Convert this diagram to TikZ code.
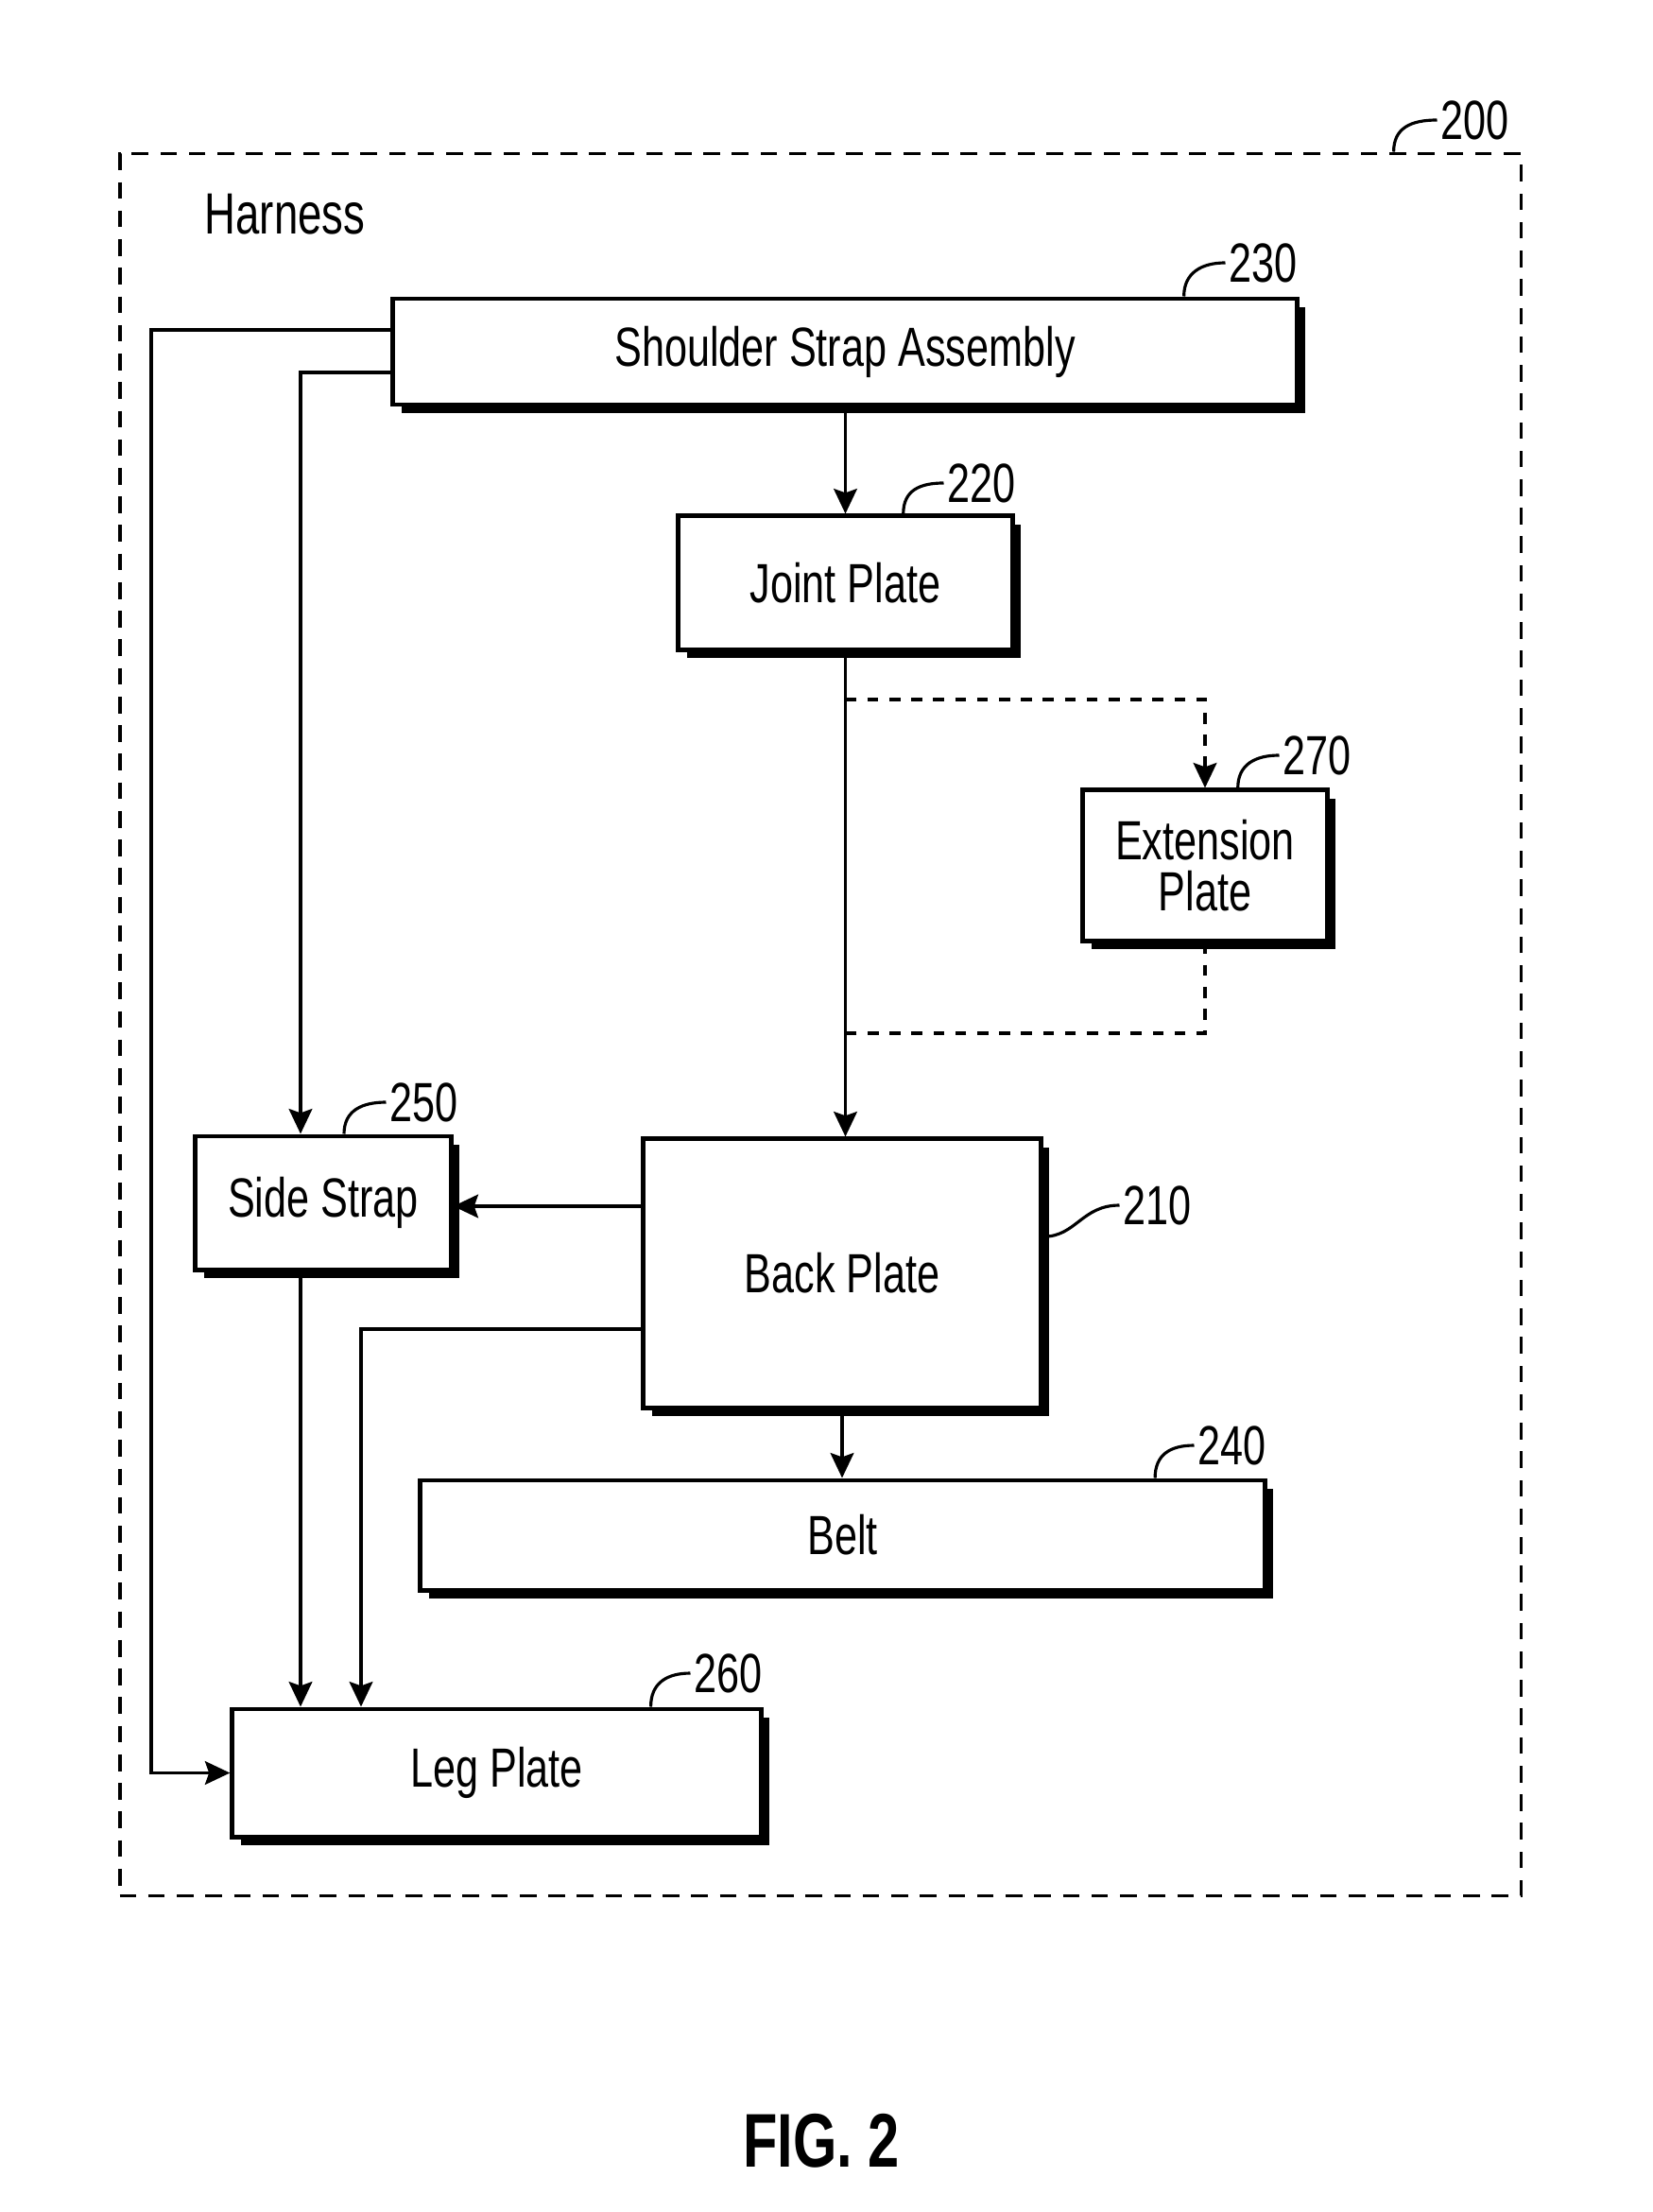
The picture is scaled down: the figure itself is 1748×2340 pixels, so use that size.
\documentclass[tikz,border=0pt]{standalone}
\usepackage{fontspec}
\setmainfont{Liberation Sans}[FakeStretch=0.74]
\usetikzlibrary{arrows.meta,shadows,calc}
\begin{document}
\begin{tikzpicture}[x=0.01cm,y=-0.01cm,
  box/.style={draw, line width=1.4pt, fill=white, inner sep=0pt, align=center,
    font=\fontsize{16.6}{15.5}\selectfont,
    general shadow={fill=black, shadow xshift=2.5pt, shadow yshift=-2.5pt}},
  conn/.style={line width=1.1pt},
  arr/.style={conn, -{Stealth[length=7.5pt,width=7pt,inset=1.2pt]}},
  dashpat/.style={dash pattern=on 3.3pt off 3.3pt},
  lead/.style={line width=0.9pt},
  lbl/.style={inner sep=0pt, anchor=west, font=\fontsize{16.6}{18}\selectfont}]
\useasboundingbox (0,0) rectangle (1748,2340);

% outer dashed harness boundary
\node[draw, line width=1.1pt, dash pattern=on 5pt off 3.6pt, minimum width=14.82cm, minimum height=18.42cm, inner sep=0pt] (outer) at (868,1084) {};
\node[anchor=west, inner sep=0pt, font=\fontsize{17.5}{20}\selectfont] (harness) at (216,227) {Harness};

% blocks
\node[box, minimum width=9.56cm, minimum height=1.12cm] (shoulder) at (894,372) {Shoulder Strap Assembly};
\node[box, minimum width=3.53cm, minimum height=1.41cm] (joint) at (894.5,616.5) {Joint Plate};
\node[box, minimum width=2.58cm, minimum height=1.59cm] (ext) at (1275,915.5) {Extension\\Plate};
\node[box, minimum width=4.20cm, minimum height=2.84cm] (back) at (891,1347) {Back Plate};
\node[box, minimum width=2.70cm, minimum height=1.41cm] (side) at (342,1272.5) {Side Strap};
\node[box, minimum width=8.93cm, minimum height=1.16cm] (belt) at (891.5,1624) {Belt};
\node[box, minimum width=5.59cm, minimum height=1.35cm] (leg) at (525.5,1875.5) {Leg Plate};

% reference numerals
\node[lbl] (l200) at (1524,127) {200};
\node[lbl] (l230) at (1300,278) {230};
\node[lbl] (l220) at (1002,511) {220};
\node[lbl] (l270) at (1357,799) {270};
\node[lbl] (l250) at (412,1166) {250};
\node[lbl] (l210) at (1188,1275) {210};
\node[lbl] (l240) at (1267,1529) {240};
\node[lbl] (l260) at (734,1770) {260};

% leaders
\draw[lead] ($(outer.north west)!0.908!(outer.north east)$) .. controls +(0,-25) and +(-28,0) .. ([xshift=-1pt]l200.west);
\draw[lead] ($(shoulder.north west)!0.873!(shoulder.north east)$) .. controls +(0,-25) and +(-25,0) .. ([xshift=-1pt]l230.west);
\draw[lead] ($(joint.north west)!0.671!(joint.north east)$) .. controls +(0,-25) and +(-25,0) .. ([xshift=-1pt]l220.west);
\draw[lead] ($(ext.north west)!0.632!(ext.north east)$) .. controls +(0,-25) and +(-25,0) .. ([xshift=-1pt]l270.west);
\draw[lead] ($(side.north west)!0.58!(side.north east)$) .. controls +(0,-25) and +(-25,0) .. ([xshift=-1pt]l250.west);
\draw[lead] ($(back.north east)!0.366!(back.south east)$) .. controls +(35,0) and +(-40,0) .. ([xshift=-1pt]l210.west);
\draw[lead] ($(belt.north west)!0.868!(belt.north east)$) .. controls +(0,-25) and +(-25,0) .. ([xshift=-1pt]l240.west);
\draw[lead] ($(leg.north west)!0.789!(leg.north east)$) .. controls +(0,-25) and +(-25,0) .. ([xshift=-1pt]l260.west);

% connectors
\draw[arr] (shoulder.south -| joint.north) -- (joint.north);
\draw[arr] (joint.south) -- (joint.south |- back.north);
\draw[arr, dashpat] (joint.south |- 0,740) -| (ext.north);
\draw[conn, dashpat] (ext.south) |- (joint.south |- 0,1093);
\draw[arr] (back.west |- 0,1276) -- (side.east |- 0,1276);
\draw[arr] (back.west |- 0,1406) -| (leg.north -| 382,0);
\draw[arr] (side.south -| 318,0) -- (leg.north -| 318,0);
\draw[arr] (shoulder.west |- 0,394) -| (side.north -| 318,0);
\draw[arr] (shoulder.west |- 0,349) -| (leg.west -| 160,0) -- (leg.west);
\draw[arr] (back.south) -- (back.south |- belt.north);

\node[font=\bfseries\fontsize{22.9}{24}\selectfont] (fig) at (869,2265) {FIG. 2};
\end{tikzpicture}
\end{document}
